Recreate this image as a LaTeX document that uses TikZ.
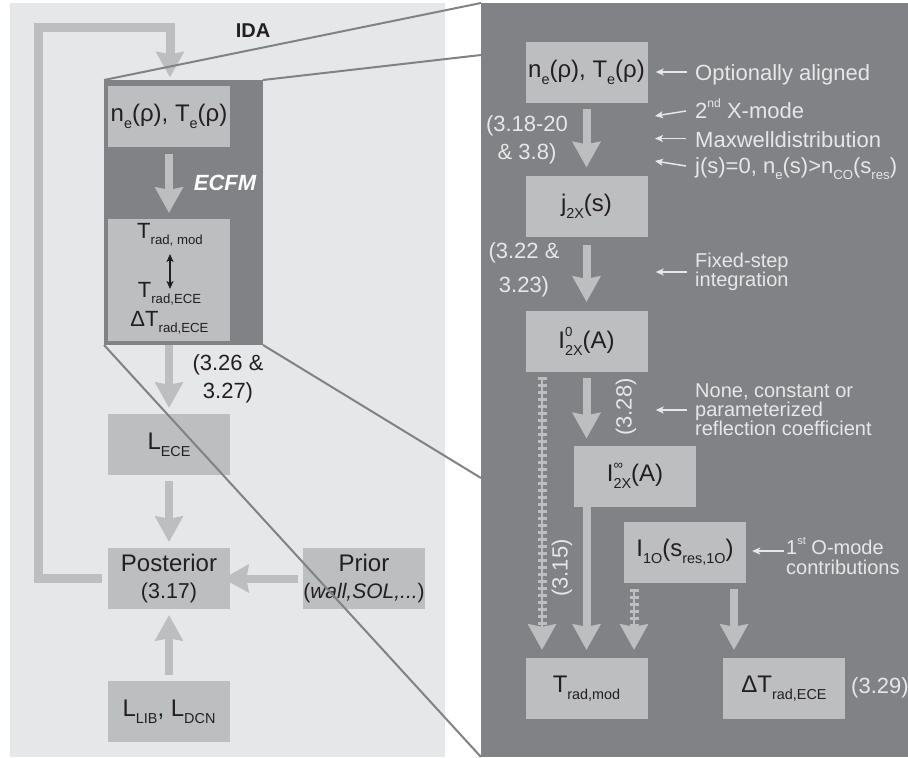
\documentclass[tikz,border=0pt]{standalone}
\usepackage{fontspec}
\setmainfont{Liberation Sans}
\usepackage{graphicx}
\usetikzlibrary{arrows.meta}
\definecolor{panel}{HTML}{E6E7E8}
\definecolor{boxg}{HTML}{BCBEC0}
\definecolor{darkg}{HTML}{808285}
\definecolor{ink}{HTML}{231F20}
\newcommand\sbs[1]{\raisebox{-0.3em}{\scalebox{0.6}{#1}}}
\newcommand\sps[1]{\raisebox{0.5em}{\scalebox{0.55}{#1}}}
\begin{document}
\begin{tikzpicture}[x=1pt,y=-1pt,
  box/.style={fill=boxg, minimum width=122pt, minimum height=61pt, inner sep=0pt, align=center, text=ink, font=\fontsize{24}{27}\selectfont},
  fat/.style={draw=boxg, line width=8pt, -{Stealth[length=26pt,width=29pt,inset=3pt,line width=0pt]}},
  loopline/.style={draw=boxg, line width=9pt},
  hatch/.style={draw=boxg, line width=9pt, dash pattern=on 3pt off 4pt, -{Stealth[length=26pt,width=29pt,inset=3pt,line width=0pt]},
     preaction={draw=boxg, line width=2pt, solid, -, shorten >=20pt}},
  thinarr/.style={draw=panel, line width=1.5pt, -{Stealth[length=8pt,width=7pt,inset=2pt]}},
  dbl/.style={draw=ink, line width=1.8pt, {Stealth[length=8pt,width=7pt,inset=2pt]}-{Stealth[length=8pt,width=7pt,inset=2pt]}},
  zoomline/.style={draw=darkg, line width=2pt},
  lbl/.style={inner sep=0pt, text=ink, align=center},
  ann/.style={inner sep=0pt, text=panel, align=left, font=\fontsize{22}{24}\selectfont}
]
\useasboundingbox (0,0) rectangle (908,758);
% panels
\fill[panel] (10,3) rectangle (445,757);
\fill[darkg] (104,80) rectangle (263,345);
\coordinate (ftl) at (104,80);
\coordinate (ftr) at (263,80);
\coordinate (fbl) at (104,345);
\coordinate (fbr) at (263,345);

% left boxes
\node[box] (lne) at (169,116) {n\sbs{e}(ρ), T\sbs{e}(ρ)};
\node[box, minimum height=122pt] (ltr) at (169,280) {};
\node[box] (lece) at (169,444.5) {L\sbs{ECE}};
\node[box] (post) at (169,578.5) {Posterior\\{\fontsize{21.5}{27}\selectfont (3.17)}};
\node[box] (prior) at (364,578.5) {Prior\\{\fontsize{21}{27}\selectfont (\textit{wall,SOL,...})}};
\node[box] (llib) at (169,711.5) {L\sbs{LIB}, L\sbs{DCN}};

% inside T_rad box
\node[lbl, anchor=base, font=\fontsize{22}{24}\selectfont] (t1) at (170,238) {T\sbs{rad, mod}};
\node[lbl, anchor=base, font=\fontsize{22}{24}\selectfont] (t2) at (169.5,297) {T\sbs{rad,ECE}};
\node[lbl, anchor=base, font=\fontsize{22}{24}\selectfont] (t3) at (169.5,326) {ΔT\sbs{rad,ECE}};
\coordinate (da1) at (170,254);
\coordinate (da2) at (170,289);
\draw[dbl] (da1) -- (da2);

% left labels
\node[lbl, font=\fontsize{20}{24}\bfseries\selectfont] (ida) at (253,30.5) {IDA};
\node[lbl, text=white, font=\fontsize{22}{24}\bfseries\itshape\selectfont] (ecfm) at (225,183) {ECFM};
\node[lbl, font=\fontsize{22}{28.5}\selectfont] (eq2627) at (228,379) {(3.26 \&\\3.27)};

% left arrows
\draw[loopline] ([xshift=-6pt]post.west) -- (38,578.5) -- (38,27.5) -- (170,27.5) -- (170,60);
\draw[fat] (170,55) -- ([xshift=1pt,yshift=8pt]lne.north);
\draw[fat] ([yshift=-7pt]lne.south) -- ([yshift=6pt]ltr.north);
\draw[fat] ([yshift=-4pt]ltr.south) -- ([yshift=6pt]lece.north);
\draw[fat] ([yshift=-6pt]lece.south) -- ([yshift=6pt]post.north);
\draw[fat] ([xshift=-5pt]prior.west) -- ([xshift=-7pt]post.east);
\draw[fat] ([yshift=6pt]llib.north) -- ([yshift=-6pt]post.south);

% zoom lines
\draw[zoomline] (ftl) -- (481,3);
\draw[zoomline] (ftr) -- (481,55);
\draw[zoomline] (fbl) -- (481,757);
\draw[zoomline] (fbr) -- (481,478);

% right panel
\fill[darkg] (481,3) rectangle (908,757);

\node[box] (rne) at (586.5,72) {n\sbs{e}(ρ), T\sbs{e}(ρ)};
\node[box] (rj) at (586.5,206) {j\sbs{2X}(s)};
\node[box] (ri0) at (586.5,341.5) {I\rlap{\sps{0}}\sbs{2X}(A)};
\node[box] (rinf) at (635,476) {I\rlap{\sps{∞}}\sbs{2X}(A)};
\node[box] (rio) at (685,552) {I\sbs{1O}(s\sbs{res,1O})};
\node[box] (rtr) at (586.5,688.5) {T\sbs{rad,mod}};
\node[box] (rdt) at (784,688.5) {ΔT\sbs{rad,ECE}};

% right arrows
\draw[fat] ([yshift=-6pt]rne.south) -- ([yshift=8pt]rj.north);
\draw[fat] ([yshift=-8pt]rj.south) -- ([yshift=9pt]ri0.north);
\draw[fat] ([yshift=-6pt]ri0.south) -- ([yshift=7pt]ri0.south |- rinf.north);
\draw[fat] (rtr.north |- rinf.south) ++(0,-9) -- ([yshift=8pt]rtr.north);
\draw[hatch] ([xshift=-44.5pt,yshift=-5pt]ri0.south) -- ([xshift=-44.5pt,yshift=8pt]rtr.north);
\draw[hatch] ([xshift=-51pt,yshift=-6pt]rio.south) -- ([xshift=-51pt,yshift=8pt]rio.south |- rtr.north);
\draw[fat] ([xshift=49pt,yshift=-6pt]rio.south) -- ([xshift=-50pt,yshift=8pt]rdt.north);

% right labels
\node[ann, align=center, font=\fontsize{22}{28.5}\selectfont] (eq1820) at (527,140) {(3.18-20\\\& 3.8)};
\node[ann, align=center, font=\fontsize{22}{34}\selectfont] (eq2223) at (524,270) {(3.22 \&\\3.23)};
\node[ann, rotate=90] (eq328) at (626,407) {(3.28)};
\node[ann, rotate=90] (eq315) at (562,568) {(3.15)};
\node[ann, anchor=west] (eq329) at (851,688) {(3.29)};

% annotations
\node[ann, anchor=base west] (opt) at (695,80) {Optionally aligned};
\node[ann, anchor=base west] (xm) at (695,118) {2\sps{nd} X-mode};
\node[ann, anchor=base west] (mx) at (695,147) {Maxwelldistribution};
\node[ann, anchor=base west] (js) at (695,173) {j(s)=0, n\sbs{e}(s)>n\sbs{CO}(s\sbs{res})};
\node[ann, anchor=west, font=\fontsize{20}{17.5}\selectfont] (fix) at (695,272) {Fixed-step\\integration};
\node[ann, anchor=west, font=\fontsize{20}{19}\selectfont] (refl) at (695,410) {None, constant or\\parameterized\\reflection coefficient};
\node[ann, anchor=west, font=\fontsize{20}{19.5}\selectfont] (omode) at (786,556) {1\sps{st} O-mode\\contributions};

\coordinate (xmT) at (686,111);
\coordinate (xmH) at (655,116);
\coordinate (jsT) at (686,166);
\coordinate (jsH) at (655,161);
\draw[thinarr] (687,72) -- ([xshift=8pt]rne.east |- 0,72);
\draw[thinarr] (xmT) -- (xmH);
\draw[thinarr] (686,138.5) -- (655,138.5);
\draw[thinarr] (jsT) -- (jsH);
\draw[thinarr] ([xshift=-8pt]fix.west) -- ([xshift=8pt]ri0.east |- fix.west);
\draw[thinarr] ([xshift=-8pt]refl.west) -- ([xshift=8pt]ri0.east |- refl.west);
\draw[thinarr] ([xshift=-2pt,yshift=5pt]omode.west) -- ([xshift=6pt,yshift=5pt]rio.east |- omode.west);
\end{tikzpicture}
\end{document}
